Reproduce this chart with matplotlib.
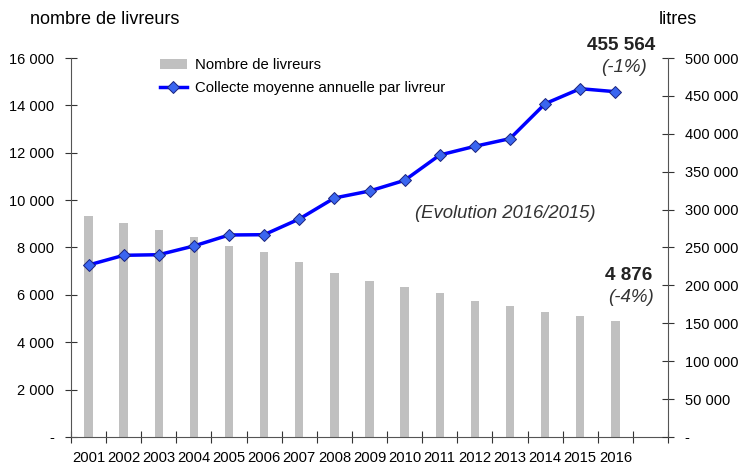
import matplotlib.pyplot as plt
import numpy as np

plt.rcParams['font.family'] = ['Liberation Sans', 'DejaVu Sans']

# data
years = ['2001', '2002', '2003', '2004', '2005', '2006', '2007', '2008',
         '2009', '2010', '2011', '2012', '2013', '2014', '2015', '2016']
livreurs = [9330, 9050, 8740, 8450, 8080, 7810, 7390, 6920,
            6590, 6330, 6090, 5740, 5530, 5280, 5110, 4876]
collecte = [226900, 239700, 240500, 252000, 266500, 266900, 287600, 315300,
            324500, 338600, 372000, 383500, 393600, 439700, 459500, 455564]


def fmt(v, pos=None):
    if v == 0:
        return '-'
    return f'{int(v):,}'.replace(',', ' ')


fig = plt.figure(figsize=(7.39, 4.65), dpi=100)
ax1 = fig.add_axes([71 / 739, 28 / 465, 597 / 739, 379 / 465])
ax2 = ax1.twinx()

x = np.arange(len(years)) + 0.5
ax1.bar(x, livreurs, width=0.24, color='#c0c0c0', label='Nombre de livreurs', zorder=1)
ax2.plot(x, collecte, color='#0000ff', lw=2.5, marker='D', markersize=6.5,
         markerfacecolor='#3a66f0', markeredgecolor='#1a237e', markeredgewidth=0.7,
         label='Collecte moyenne annuelle par livreur', zorder=3)

ax1.set_xlim(0, 17)
ax1.set_ylim(0, 16000)
ax2.set_ylim(0, 500000)
ax1.set_yticks(range(0, 16001, 2000))
ax2.set_yticks(range(0, 500001, 50000))
ax1.yaxis.set_major_formatter(plt.FuncFormatter(fmt))
ax2.yaxis.set_major_formatter(plt.FuncFormatter(fmt))

# category boundaries as ticks, year labels centred in each slot
ax1.set_xticks(np.arange(0, 18))
ax1.set_xticklabels([])
ax1.set_xticks(x, minor=True)
ax1.set_xticklabels(years, minor=True)
ax1.tick_params(axis='x', which='minor', length=0, pad=10, labelsize=10.6)
ax1.tick_params(axis='x', which='major', direction='inout', length=8, color='#333333')
ax1.tick_params(axis='y', direction='inout', length=8, color='#333333', labelsize=10.5, pad=8)
ax2.tick_params(axis='y', direction='inout', length=8, color='#333333', labelsize=10.5, pad=8)

for a in (ax1, ax2):
    a.spines['top'].set_visible(False)
    for s in ('left', 'right', 'bottom'):
        a.spines[s].set_color('#555555')
ax1.spines['right'].set_visible(False)
ax2.spines['left'].set_visible(False)
ax2.spines['bottom'].set_visible(False)

fig.text(30 / 739, 1 - 20 / 465, 'nombre de livreurs', fontsize=13, va='center', ha='left')
fig.text(659 / 739, 1 - 20 / 465, 'litres', fontsize=13, va='center', ha='left')

fig.text(655 / 739, 1 - 45 / 465, '455 564', fontsize=13.6, fontweight='bold', ha='right', va='center', color='#222222')
fig.text(647 / 739, 1 - 67 / 465, '(-1%)', fontsize=13.5, style='italic', ha='right', va='center', color='#333333')
fig.text(652 / 739, 1 - 275 / 465, '4 876', fontsize=13.6, fontweight='bold', ha='right', va='center', color='#222222')
fig.text(654 / 739, 1 - 298 / 465, '(-4%)', fontsize=13.5, style='italic', ha='right', va='center', color='#333333')
fig.text(505 / 739, 1 - 213 / 465, '(Evolution 2016/2015)', fontsize=13.3, style='italic', ha='center', va='center', color='#333333')

h1, l1 = ax1.get_legend_handles_labels()
h2, l2 = ax2.get_legend_handles_labels()
ax2.legend(h1 + h2, l1 + l2, loc='upper left', bbox_to_anchor=(160 / 739, 1 - 58 / 465),
           bbox_transform=fig.transFigure, frameon=False, fontsize=10.7,
           handlelength=1.8, handletextpad=0.55, labelspacing=0.6, borderaxespad=0,
           borderpad=0)

fig.savefig('out.png', dpi=100)
